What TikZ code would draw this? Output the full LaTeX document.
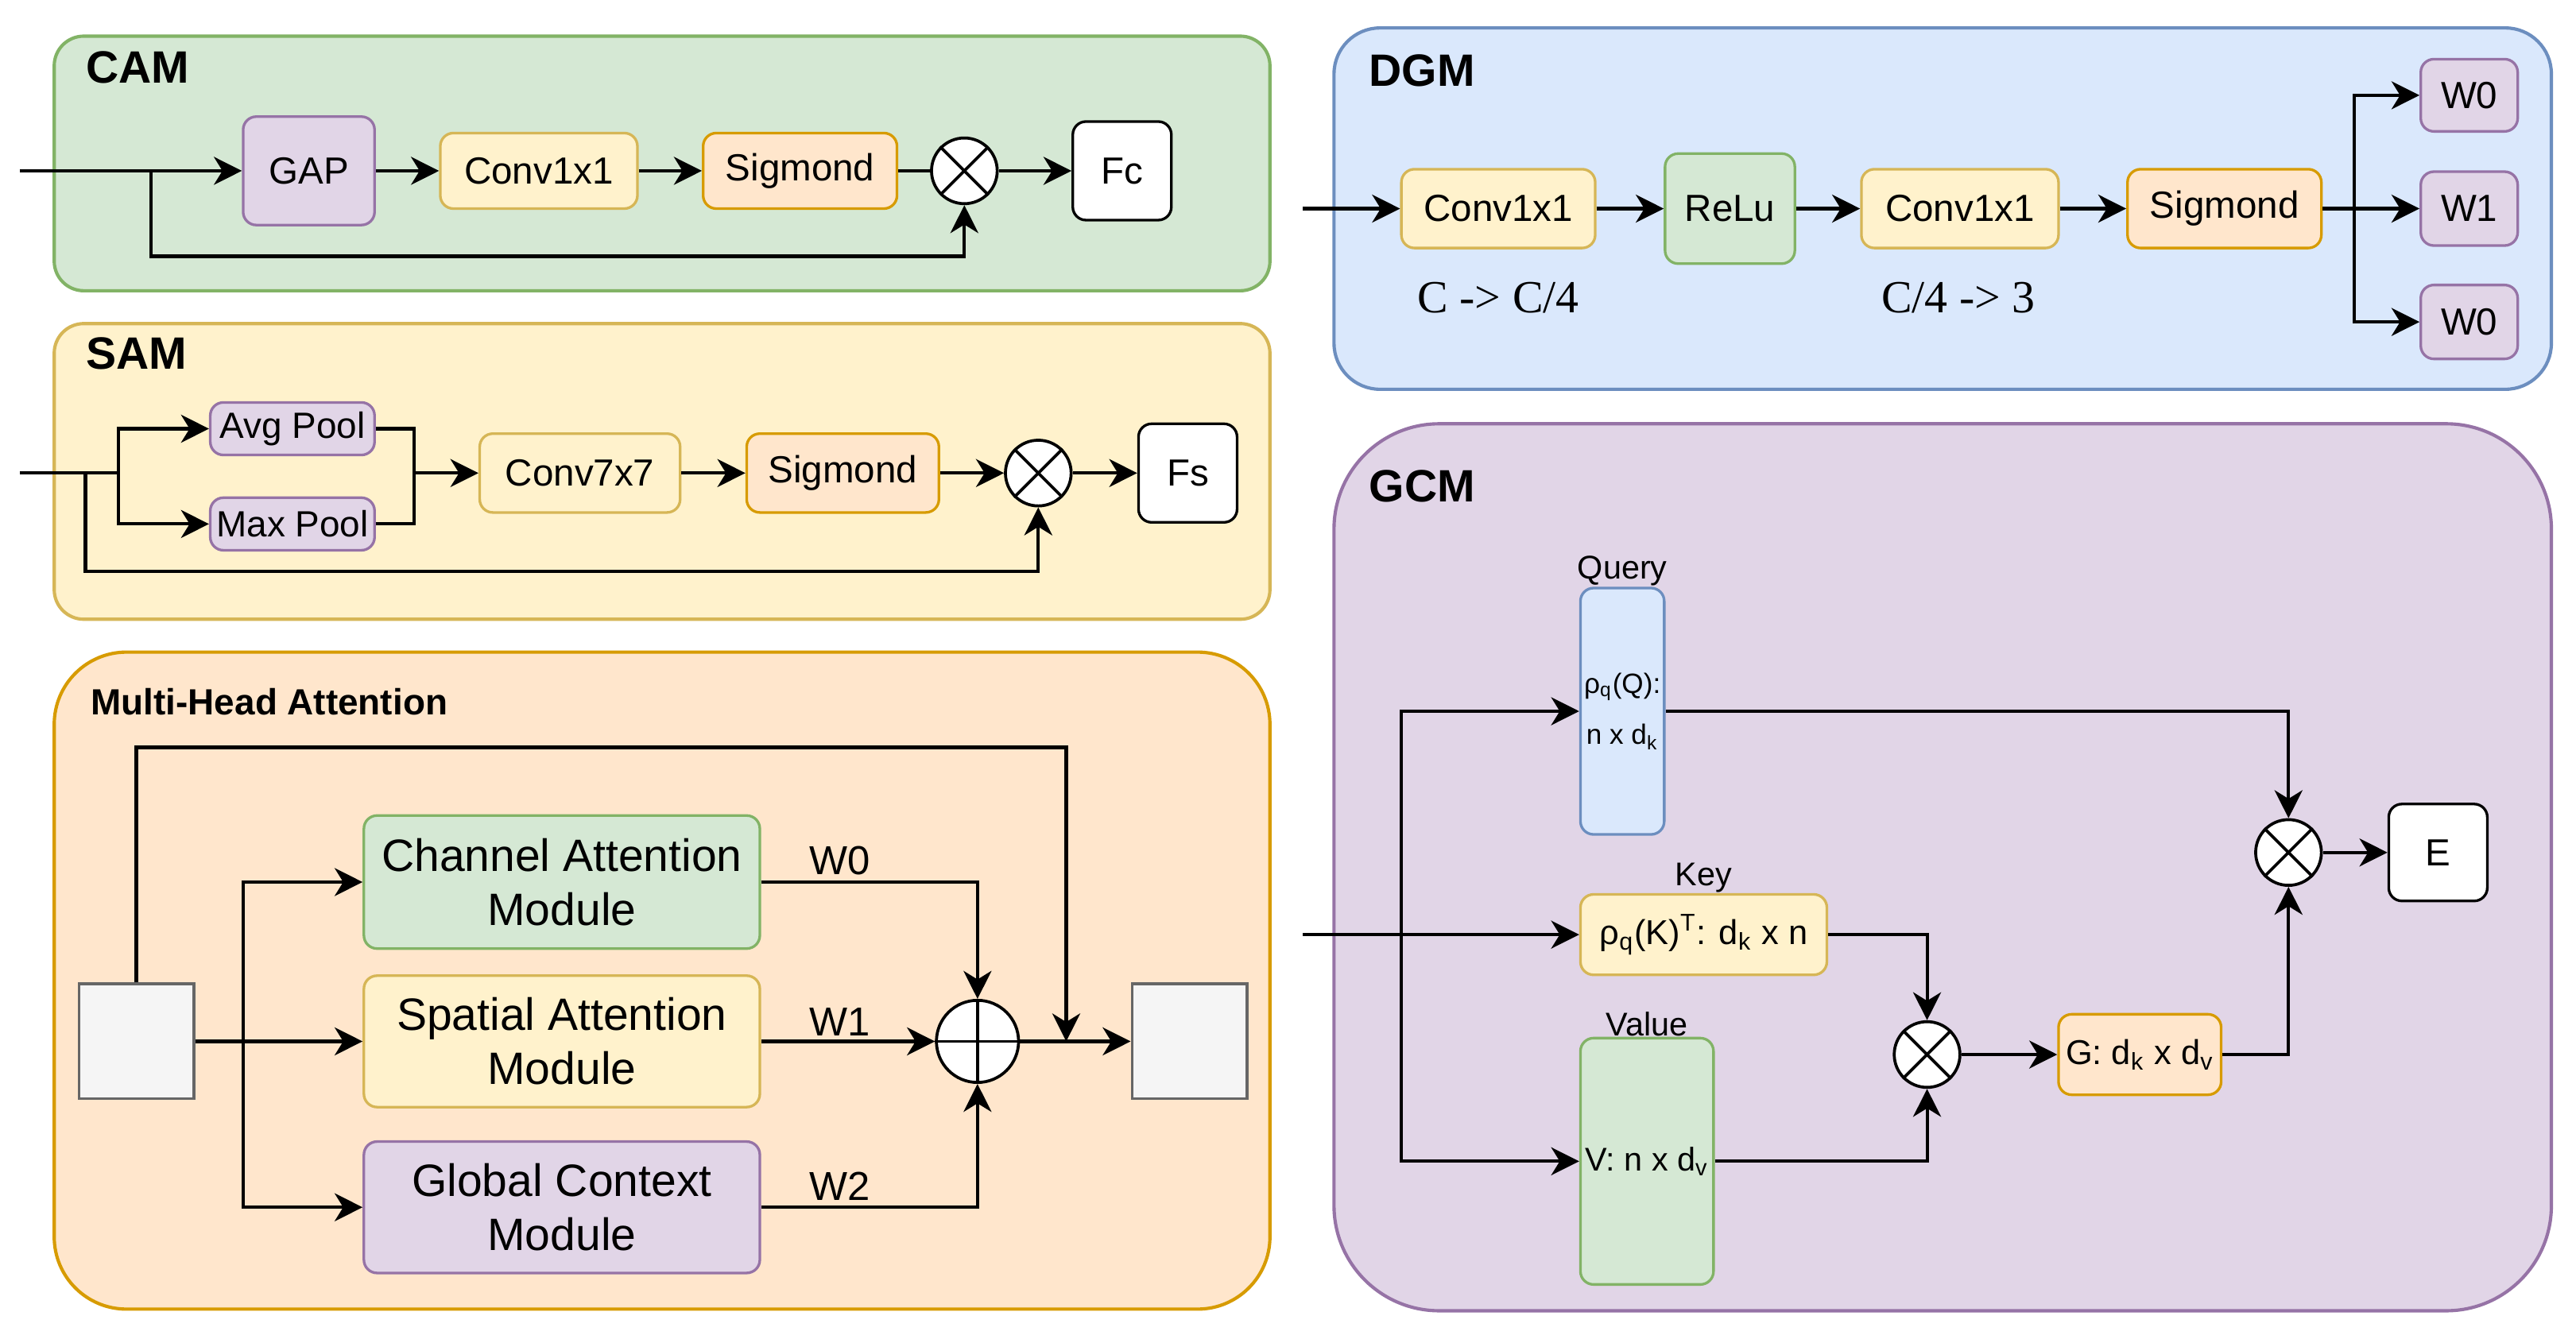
\documentclass[tikz,border=0pt]{standalone}
\usepackage{fontspec}
\setmainfont{Liberation Sans}
\newfontfamily\serifx{Liberation Serif}
\usetikzlibrary{arrows.meta}
\definecolor{gfill}{HTML}{D5E8D4}\definecolor{gline}{HTML}{82B366}
\definecolor{yfill}{HTML}{FFF2CC}\definecolor{yline}{HTML}{D6B656}
\definecolor{ofill}{HTML}{FFE6CC}\definecolor{oline}{HTML}{D79B00}
\definecolor{pfill}{HTML}{E1D5E7}\definecolor{pline}{HTML}{9673A6}
\definecolor{bfill}{HTML}{DAE8FC}\definecolor{bline}{HTML}{6C8EBF}
\definecolor{sfill}{HTML}{F5F5F5}\definecolor{sline}{HTML}{666666}
\tikzset{
  box/.style={draw, rounded corners=4pt, line width=0.8pt, inner sep=0pt, align=center, font=\fontsize{11.5}{13}\selectfont},
  gbox/.style={box, fill=gfill, draw=gline},
  ybox/.style={box, fill=yfill, draw=yline},
  obox/.style={box, fill=ofill, draw=oline},
  pbox/.style={box, fill=pfill, draw=pline},
  bbox/.style={box, fill=bfill, draw=bline},
  wbox/.style={box, fill=white, draw=black},
  sqbox/.style={draw=sline, fill=sfill, line width=0.8pt, minimum size=35pt, inner sep=0pt},
  panel/.style={line width=1pt},
  ttl/.style={anchor=west, inner sep=0pt, font=\fontsize{13.8}{16}\selectfont\bfseries},
  lbl/.style={inner sep=0pt, font=\fontsize{10}{12}\selectfont},
  mulc/.style={circle, draw, fill=white, line width=0.9pt, minimum size=20pt, inner sep=0pt},
  ln/.style={line width=1pt},
  arr/.style={ln, -{Stealth[length=8.5pt,width=8.5pt,inset=2.6pt]}}
}
\begin{document}
\begin{tikzpicture}[x=0.5pt,y=-0.5pt]
\useasboundingbox[fill=white] (0,0) rectangle (1568,815);

% ---------------- panels
\draw[panel, fill=gfill, draw=gline, rounded corners=9pt] (33,22) rectangle (773,177);
\draw[panel, fill=yfill, draw=yline, rounded corners=9pt] (33,197) rectangle (773,377);
\draw[panel, fill=ofill, draw=oline, rounded corners=22pt] (33,397) rectangle (773,797);
\draw[panel, fill=bfill, draw=bline, rounded corners=14pt] (812,17) rectangle (1553,237);
\draw[panel, fill=pfill, draw=pline, rounded corners=32pt] (812,258) rectangle (1553,798);

\node[ttl] (tcam) at (52,41) {CAM};
\node[ttl] (tsam) at (52,215) {SAM};
\node[ttl, font=\fontsize{11.1}{13}\selectfont\bfseries] (tmha) at (55,427) {Multi-Head Attention};
\node[ttl] (tdgm) at (833,43) {DGM};
\node[ttl] (tgcm) at (833,296) {GCM};

% ---------------- CAM
\node[pbox, minimum width=40pt, minimum height=33pt] (gap) at (188,104) {GAP};
\node[ybox, minimum width=60pt, minimum height=23pt] (cc1) at (328,104) {Conv1x1};
\node[obox, minimum width=59pt, minimum height=23pt] (cs1) at (487,104) {Sigmond};
\node[mulc] (m1) at (587,104) {};
\draw[line width=0.9pt] (m1.north east) -- (m1.south west) (m1.north west) -- (m1.south east);
\node[wbox, minimum width=30pt, minimum height=30pt] (fc) at (683,104) {Fc};
\coordinate (camin) at (12,104);
\coordinate (camb) at (92,104);
\draw[arr] (camin) -- (gap);
\draw[arr] (gap) -- (cc1);
\draw[arr] (cc1) -- (cs1);
\draw[ln] (cs1) -- (m1);
\draw[arr] (m1) -- (fc);
\draw[arr] (camb) -- (92,156) -| (m1.south);

% ---------------- SAM
\node[pbox, minimum width=50pt, minimum height=16pt, font=\fontsize{11.1}{13}\selectfont] (avg) at (178,261) {Avg Pool};
\node[pbox, minimum width=50pt, minimum height=16pt, font=\fontsize{11.1}{13}\selectfont] (max) at (178,319) {Max Pool};
\node[ybox, minimum width=61pt, minimum height=24pt] (c7) at (353,288) {Conv7x7};
\node[obox, minimum width=58.5pt, minimum height=24pt] (cs2) at (513,288) {Sigmond};
\node[mulc] (m2) at (632,288) {};
\draw[line width=0.9pt] (m2.north east) -- (m2.south west) (m2.north west) -- (m2.south east);
\node[wbox, minimum width=30pt, minimum height=30pt] (fs) at (723,288) {Fs};
\coordinate (samin) at (12,288);
\coordinate (samb) at (72,288);
\coordinate (samc) at (52,288);
\coordinate (sj) at (252,288);
\draw[ln] (samin) -- (samb);
\draw[arr] (samb) |- (avg.west);
\draw[arr] (samb) |- (max.west);
\draw[ln] (avg.east) -| (sj);
\draw[ln] (max.east) -| (sj);
\draw[arr] (sj) -- (c7);
\draw[arr] (c7) -- (cs2);
\draw[arr] (cs2) -- (m2);
\draw[arr] (m2) -- (fs);
\draw[arr] (samc) -- (52,348) -| (m2.south);

% ---------------- Multi-Head Attention
\node[sqbox] (lsq) at (83,634) {};
\node[sqbox] (rsq) at (724,634) {};
\node[gbox, minimum width=120.5pt, minimum height=40.5pt, font=\fontsize{13.8}{16.5}\selectfont] (cha) at (342,537) {Channel Attention\\Module};
\node[ybox, minimum width=120.5pt, minimum height=40pt, font=\fontsize{13.8}{16.5}\selectfont] (spa) at (342,634) {Spatial Attention\\Module};
\node[pbox, minimum width=120.5pt, minimum height=40pt, font=\fontsize{13.8}{16.5}\selectfont] (glo) at (342,735) {Global Context\\Module};
\node[circle, draw, fill=white, line width=0.9pt, minimum size=25pt, inner sep=0pt] (pl) at (595,634) {};
\draw[line width=0.9pt] (pl.north) -- (pl.south) (pl.west) -- (pl.east);
\coordinate (mb) at (148,634);
\coordinate (mj) at (649,634);
\draw[arr] (lsq.east) -- (spa.west);
\draw[arr] (mb) |- (cha.west);
\draw[arr] (mb) |- (glo.west);
\draw[arr] (cha.east) -| (pl.north);
\draw[arr] (spa.east) -- (pl.west);
\draw[arr] (glo.east) -| (pl.south);
\draw[arr] (pl.east) -- (rsq.west);
\draw[arr] (lsq.north) -- (83,455) -| (mj);
\node[lbl, font=\fontsize{12.3}{14}\selectfont] (w0l) at (511,524) {W0};
\node[lbl, font=\fontsize{12.3}{14}\selectfont] (w1l) at (511,622) {W1};
\node[lbl, font=\fontsize{12.3}{14}\selectfont] (w2l) at (511,722) {W2};

% ---------------- DGM
\node[ybox, minimum width=59pt, minimum height=24pt] (d1) at (912,127) {Conv1x1};
\node[gbox, minimum width=39.5pt, minimum height=33.5pt] (dr) at (1053,127) {ReLu};
\node[ybox, minimum width=60pt, minimum height=24pt] (d2) at (1193,127) {Conv1x1};
\node[obox, minimum width=59pt, minimum height=24pt] (ds) at (1354,127) {Sigmond};
\node[pbox, minimum width=29.5pt, minimum height=22pt] (wa) at (1503,58) {W0};
\node[pbox, minimum width=29.5pt, minimum height=22.5pt] (wb) at (1503,127) {W1};
\node[pbox, minimum width=29.5pt, minimum height=22.5pt] (wc) at (1503,196) {W0};
\coordinate (dgmin) at (793,127);
\coordinate (db) at (1433,127);
\draw[arr] (dgmin) -- (d1);
\draw[arr] (d1) -- (dr);
\draw[arr] (dr) -- (d2);
\draw[arr] (d2) -- (ds);
\draw[arr] (ds) -- (wb);
\draw[arr] (db) |- (wa.west);
\draw[arr] (db) |- (wc.west);
\node[inner sep=0pt, font=\serifx\fontsize{14}{16}\selectfont] (la) at (912,181) {C -> C/4};
\node[inner sep=0pt, font=\serifx\fontsize{14}{16}\selectfont] (lb) at (1192,181) {C/4 -> 3};

% ---------------- GCM
\node[bbox, minimum width=25.5pt, minimum height=75pt, font=\fontsize{8.5}{15.5}\selectfont] (qq) at (987.5,433) {ρ\textsubscript{q}(Q):\\n x d\textsubscript{k}};
\node[ybox, minimum width=75pt, minimum height=24.5pt, font=\fontsize{10.5}{12}\selectfont] (kk) at (1037,569) {ρ\textsubscript{q}(K)\textsuperscript{T}: d\textsubscript{k} x n};
\node[gbox, minimum width=40.5pt, minimum height=75pt, font=\fontsize{10}{12}\selectfont] (vv) at (1002.5,707) {V: n x d\textsubscript{v}};
\node[lbl, anchor=south] (lq) at (qq.north) {Query};
\node[lbl, anchor=south] (lk) at (kk.north) {Key};
\node[lbl, anchor=south] (lv) at (vv.north) {Value};
\node[mulc] (m4) at (1173,642) {};
\draw[line width=0.9pt] (m4.north east) -- (m4.south west) (m4.north west) -- (m4.south east);
\node[obox, minimum width=49.5pt, minimum height=24.5pt, font=\fontsize{10.5}{12}\selectfont] (gg) at (1302.5,642) {G: d\textsubscript{k} x d\textsubscript{v}};
\node[mulc] (m3) at (1393,519) {};
\draw[line width=0.9pt] (m3.north east) -- (m3.south west) (m3.north west) -- (m3.south east);
\node[wbox, minimum width=30pt, minimum height=29.5pt] (ee) at (1484,519) {E};
\coordinate (gcmin) at (793,569);
\coordinate (gb) at (853,569);
\draw[arr] (gcmin) -- (kk.west);
\draw[arr] (gb) |- (qq.west);
\draw[arr] (gb) |- (vv.west);
\draw[arr] (qq.east) -| (m3.north);
\draw[arr] (kk.east) -| (m4.north);
\draw[arr] (vv.east) -| (m4.south);
\draw[arr] (m4) -- (gg);
\draw[arr] (gg.east) -| (m3.south);
\draw[arr] (m3) -- (ee);
\end{tikzpicture}
\end{document}
